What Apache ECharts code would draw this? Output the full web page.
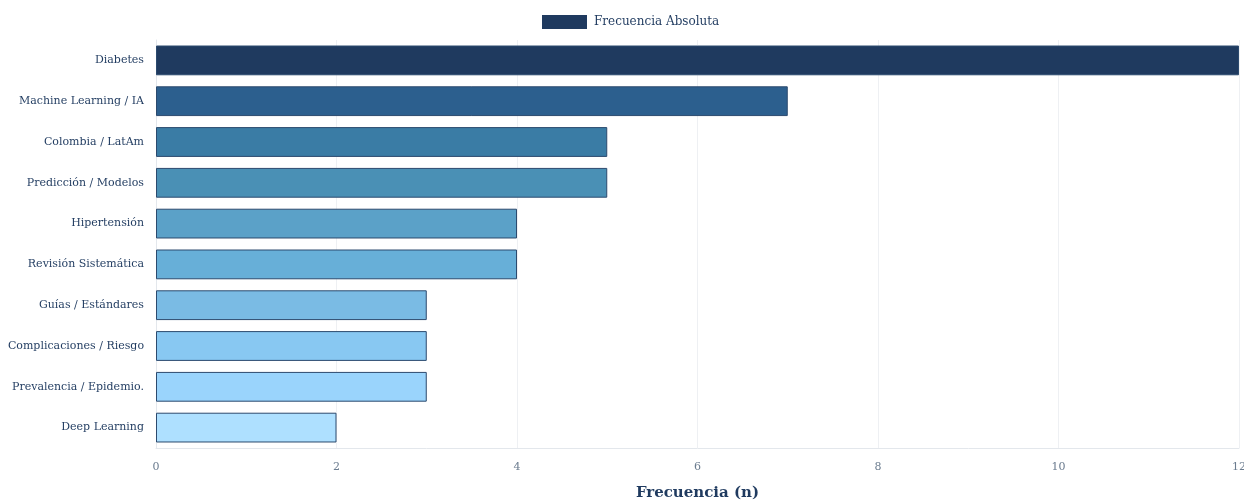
<!DOCTYPE html>
<html>
<head>
<meta charset="utf-8">
<script src="https://cdn.jsdelivr.net/npm/echarts@6/dist/echarts.min.js"></script>
<style>
  html, body { margin: 0; padding: 0; background: #fff; }
  #chart { width: 1244px; height: 500px; }
</style>
</head>
<body>
<div id="chart"></div>
<script>
// categories top to bottom as shown
const categories = [
  'Diabetes', 'Machine Learning / IA', 'Colombia / LatAm', 'Predicción / Modelos',
  'Hipertensión', 'Revisión Sistemática', 'Guías / Estándares',
  'Complicaciones / Riesgo', 'Prevalencia / Epidemio.', 'Deep Learning'
];
const frecuencia = [12, 7, 5, 5, 4, 4, 3, 3, 3, 2];
const barColors = [
  '#1f3a5f', '#2c5f8e', '#3a7ca5', '#4a90b5', '#5ba1c8',
  '#67afd8', '#7abbe4', '#88c8f2', '#9ad4fc', '#aee0ff'
];

const serif = "Georgia, 'DejaVu Serif', 'Liberation Serif', serif";
const chart = echarts.init(document.getElementById('chart'));

chart.setOption({
  animation: false,
  textStyle: { fontFamily: serif },
  legend: {
    data: [{ name: 'Frecuencia Absoluta', icon: 'rect' }],
    top: 10,
    left: 537,
    itemWidth: 45,
    itemHeight: 14,
    itemGap: 8,
    itemStyle: { color: '#1f3a5f', borderWidth: 0 },
    textStyle: { color: '#1f3a5f', fontSize: 12, fontFamily: serif, padding: [0, 0, 0, 2] }
  },
  grid: { left: 156, right: 5, top: 40, bottom: 52, outerBoundsMode: 'none', containLabel: false },
  xAxis: {
    type: 'value',
    min: 0,
    max: 12,
    interval: 2,
    name: 'Frecuencia (n)',
    nameLocation: 'middle',
    nameGap: 38,
    nameTextStyle: { color: '#1f3a5f', fontSize: 15, fontWeight: 'bold', fontFamily: serif },
    axisLine: { show: true, lineStyle: { color: '#e3e7ec' } },
    axisTick: { show: false },
    axisLabel: { color: '#6b7c8f', fontSize: 11, margin: 14, fontFamily: serif },
    splitLine: { show: true, lineStyle: { color: '#eef0f3' } }
  },
  yAxis: {
    type: 'category',
    data: categories,
    inverse: true,
    axisLine: { show: true, lineStyle: { color: '#e3e7ec' } },
    axisTick: { show: false },
    axisLabel: { color: '#1f3a5f', fontSize: 11, margin: 12, fontFamily: serif }
  },
  series: [{
    name: 'Frecuencia Absoluta',
    type: 'bar',
    barWidth: '73%',
    data: frecuencia.map((v, i) => ({
      value: v,
      itemStyle: { color: barColors[i] }
    })),
    itemStyle: { color: '#1f3a5f', borderColor: '#2c4a6e', borderWidth: 1 }
  }]
});
</script>
</body>
</html>
